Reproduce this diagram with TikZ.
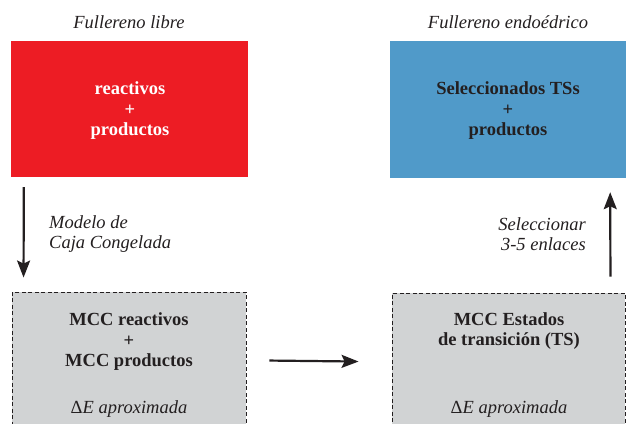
\documentclass[tikz,border=0pt]{standalone}
\usepackage{fontspec}
\setmainfont{Liberation Serif}
\usetikzlibrary{arrows.meta}
\definecolor{rojo}{RGB}{237,28,36}
\definecolor{azul}{RGB}{80,154,201}
\definecolor{gris}{RGB}{209,211,212}
\definecolor{tinta}{RGB}{35,31,32}
\begin{document}
\begin{tikzpicture}[x=1pt, y=-1pt, font=\fontsize{18.5}{20.5}\selectfont, text=tinta,
	caja/.style={minimum width=236pt, inner sep=0pt},
	cajagris/.style={caja, fill=gris, draw=tinta, line width=0.9pt, dash pattern=on 4pt off 2.5pt, minimum height=150pt},
	texto/.style={align=center, inner sep=0pt, font=\fontsize{18.5}{20.5}\selectfont\bfseries},
	etiq/.style={font=\fontsize{18.5}{20.5}\selectfont\itshape, inner sep=0pt},
	flecha/.style={draw=tinta, line width=2.2pt, -{Stealth[length=17pt,width=13pt,inset=3pt]}}]
	\useasboundingbox (0,0) rectangle (626,423);
	\clip (0,0) rectangle (626,423);
	% cajas de arriba
	\node[caja, fill=rojo, minimum width=237pt, minimum height=136pt] (libre) at (129.5,109) {};
	\node[caja, fill=azul, minimum height=137pt] (endo) at (508,109.5) {};
	\node[texto, text=white] (txtLibre) at (130,111) {reactivos\\+\\productos};
	\node[texto] (txtEndo) at (508,111) {Seleccionados TSs\\+\\productos};
	\node[etiq] (titL) at (129,22) {Fullereno libre};
	\node[etiq] (titR) at (508,22) {Fullereno endoédrico};
	% cajas de abajo
	\node[cajagris, minimum width=234pt] (mccL) at (129,367) {};
	\node[cajagris, minimum width=233pt] (mccR) at (508.5,368) {};
	\node[texto] (txtL) at (129,342) {MCC reactivos\\+\\MCC productos};
	\node[texto] (txtR) at (509,331) {MCC Estados\\de transición (TS)};
	\node[etiq] (dEL) at (129,409) {\upshape Δ\itshape E aproximada};
	\node[etiq] (dER) at (509,409) {\upshape Δ\itshape E aproximada};
	% flechas
	\draw[flecha] ([xshift=13pt,yshift=-10pt]libre.south west) -- ([xshift=12pt,yshift=14pt]mccL.north west);
	\draw[flecha] ([xshift=23pt,yshift=-69pt]mccL.north east) -- ([xshift=-33pt,yshift=-69pt]mccR.north west);
	\draw[flecha] ([xshift=-15pt,yshift=16pt]mccR.north east) -- ([xshift=-16pt,yshift=-14pt]endo.south east);
	\node[etiq, anchor=west, align=left] (modelo) at (49,234) {Modelo de\\Caja Congelada};
	\node[etiq, anchor=east, align=right] (selec) at (586,234) {Seleccionar\\3-5 enlaces};
\end{tikzpicture}
\end{document}
